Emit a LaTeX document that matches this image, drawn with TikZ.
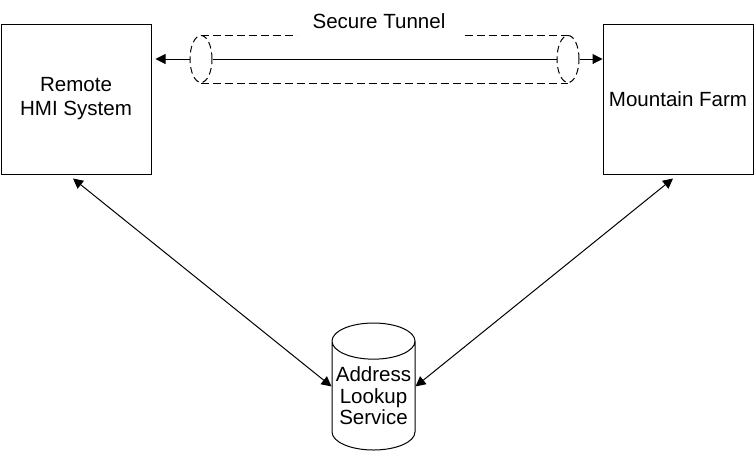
\documentclass[tikz,border=0pt]{standalone}
\usepackage{fontspec}
\setmainfont{Liberation Sans}
\usetikzlibrary{shapes.geometric, arrows.meta}
\tikzset{
sysbox/.style={draw, line width=0.75pt, minimum width=112.5pt, minimum height=112.5pt,
  inner sep=0pt, align=center, font=\fontsize{15.4}{18}\selectfont},
tubeend/.style={draw, ellipse, dash pattern=on 5pt off 3pt, line width=0.75pt,
  minimum width=16.5pt, minimum height=35.25pt, inner sep=0pt},
tube/.style={dash pattern=on 6pt off 3pt, line width=0.75pt},
lookup/.style={draw, cylinder, shape border rotate=90, aspect=0.48, line width=0.75pt,
  minimum width=62.25pt, minimum height=95.25pt, inner sep=0pt, align=center,
  font=\fontsize{15.4}{16}\selectfont},
tip/.style={Triangle[length=7.5pt,width=7.5pt]},
link/.style={line width=0.75pt, -{Triangle[length=7.5pt,width=7.5pt]}},
twoway/.style={line width=0.75pt, {Triangle[length=7.5pt,width=7.5pt]}-{Triangle[length=7.5pt,width=7.5pt]}}
}
\begin{document}
\begin{tikzpicture}[x=0.75pt, y=-0.75pt]
\useasboundingbox (0,0) rectangle (755,451);
\node[sysbox] (hmi) at (76,99) {\raisebox{-2pt}{\begin{tabular}{@{}c@{}}Remote\\HMI System\end{tabular}}};
\node[sysbox] (farm) at (678,99) {Mountain Farm};
\node[font=\fontsize{15.4}{18}\selectfont] (lbl) at (379,21) {Secure Tunnel};
\node[tubeend] (tl) at (201,59) {};
\node[tubeend] (tr) at (568,59) {};
\coordinate (gapl) at (297,35);
\coordinate (gapr) at (465,35);
\node[lookup, anchor=shape center] (als) at (373.5,386.5) {Address\\Lookup\\ Service};

% tunnel
\draw[tube] (tl.north) -- (gapl) (gapr) -- (tr.north);
\draw[tube] (tl.south) -- (tr.south);
\draw[line width=0.75pt] (tl.east) -- (tr.west);
\draw[link, shorten >=3pt] (tl.west) -- (hmi.east |- tl.west);
\draw[link] (tr.east) -- (farm.west |- tr.east);

% lookup links
\draw[twoway] ([xshift=-2.25pt,yshift=-3pt]hmi.south) -- ([yshift=7pt]als.west);
\draw[twoway] ([xshift=-3.75pt,yshift=-3pt]farm.south) -- ([yshift=7pt]als.east);
\end{tikzpicture}
\end{document}
